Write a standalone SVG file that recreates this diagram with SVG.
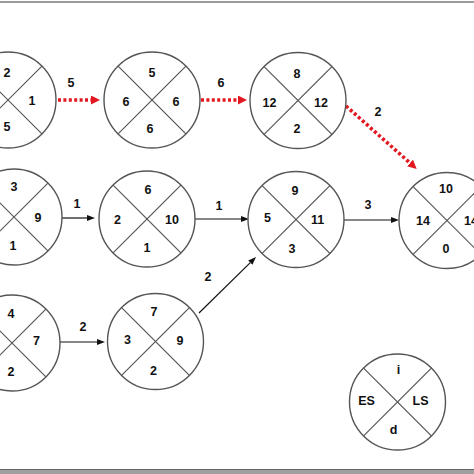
<svg xmlns="http://www.w3.org/2000/svg" width="474" height="474" viewBox="0 0 474 474">
<defs>
<style>
.c{fill:#fff;stroke:#555;stroke-width:1.4}
.x{stroke:#555;stroke-width:1.2}
text{font-family:"Liberation Sans",Arial,sans-serif;font-weight:bold;font-size:12.5px;fill:#111;text-anchor:middle}
.red{stroke:#e3171f;stroke-width:3.6;stroke-dasharray:3 2.4;fill:none}
.blk{stroke:#111;stroke-width:1.2;fill:none}
</style>
<marker id="ar" markerUnits="userSpaceOnUse" markerWidth="10" markerHeight="10" refX="0" refY="4.5" orient="auto"><path d="M0,0 L9,4.5 L0,9 z" fill="#e3171f"/></marker>
<marker id="ab" markerUnits="userSpaceOnUse" markerWidth="9" markerHeight="7" refX="0" refY="3" orient="auto"><path d="M0,0 L8,3 L0,6 z" fill="#111"/></marker>
<g id="node-shape"><circle class="c" r="48"/><line class="x" x1="-33.9" y1="-33.9" x2="33.9" y2="33.9"/><line class="x" x1="-33.9" y1="33.9" x2="33.9" y2="-33.9"/></g>
</defs>
<rect width="474" height="474" fill="#fff"/>
<line x1="0" y1="2" x2="474" y2="2" stroke="#7a7a7a" stroke-width="1.5"/>
<rect x="0" y="469" width="474" height="5" fill="#a0a0a0"/>
<line x1="0" y1="469.5" x2="474" y2="469.5" stroke="#666" stroke-width="1"/>
<g id="connectors">
<line class="red" x1="58" y1="100" x2="91" y2="100" marker-end="url(#ar)"/>
<text x="71" y="87">5</text>
<line class="red" x1="201" y1="100" x2="238" y2="100" marker-end="url(#ar)"/>
<text x="221" y="87">6</text>
<line class="red" x1="346" y1="106" x2="410" y2="163" marker-end="url(#ar)"/>
<text x="378" y="116">2</text>
<line class="blk" x1="62" y1="218" x2="87" y2="218" marker-end="url(#ab)"/>
<text x="77" y="208">1</text>
<line class="blk" x1="195" y1="219" x2="241" y2="219" marker-end="url(#ab)"/>
<text x="219" y="210">1</text>
<line class="blk" x1="199" y1="313" x2="250.3" y2="262.6" marker-end="url(#ab)"/>
<text x="208" y="281">2</text>
<line class="blk" x1="60" y1="342" x2="97" y2="342" marker-end="url(#ab)"/>
<text x="83" y="331">2</text>
<line class="blk" x1="344" y1="220" x2="391" y2="220" marker-end="url(#ab)"/>
<text x="368" y="209">3</text>
</g>
<g id="nodeA" transform="translate(8,100)"><use href="#node-shape"/><text x="-1" y="-23">2</text><text x="24" y="4.5">1</text><text x="-1" y="31">5</text></g>
<g id="nodeB" transform="translate(152,100)"><use href="#node-shape"/><text x="0" y="-23">5</text><text x="-26" y="5.5">6</text><text x="24" y="5.5">6</text><text x="-2" y="32.5">6</text></g>
<g id="nodeC" transform="translate(298,100.5)"><use href="#node-shape"/><text x="-1" y="-23">8</text><text x="-28.5" y="6">12</text><text x="23" y="6">12</text><text x="-1" y="32">2</text></g>
<g id="nodeD" transform="translate(14,217)"><use href="#node-shape"/><text x="0" y="-26">3</text><text x="24" y="4.5">9</text><text x="-1" y="32.5">1</text></g>
<g id="nodeE" transform="translate(147,219)"><use href="#node-shape"/><text x="1" y="-25.5">6</text><text x="-29.5" y="4.5">2</text><text x="25" y="4.5">10</text><text x="0" y="32.5">1</text></g>
<g id="nodeF" transform="translate(296,219.5)"><use href="#node-shape"/><text x="-1" y="-24.5">9</text><text x="-28.5" y="2">5</text><text x="21.5" y="4">11</text><text x="-4" y="33">3</text></g>
<g id="nodeEnd" transform="translate(447,220.5)"><use href="#node-shape"/><text x="-1" y="-27.5">10</text><text x="-24" y="4.5">14</text><text x="24" y="4.5">14</text><text x="-1" y="32">0</text></g>
<g id="nodeG" transform="translate(12,343)"><use href="#node-shape"/><text x="-1" y="-25">4</text><text x="24.5" y="1.5">7</text><text x="-1" y="33">2</text></g>
<g id="nodeH" transform="translate(155.5,341.5)"><use href="#node-shape"/><text x="-1.5" y="-25.5">7</text><text x="-28" y="2">3</text><text x="24.5" y="3">9</text><text x="-2" y="33.5">2</text></g>
<g id="legend" transform="translate(397.5,402)"><use href="#node-shape"/><text x="1" y="-28">i</text><text x="-31" y="3">ES</text><text x="23" y="3">LS</text><text x="-4" y="32">d</text></g>
</svg>
